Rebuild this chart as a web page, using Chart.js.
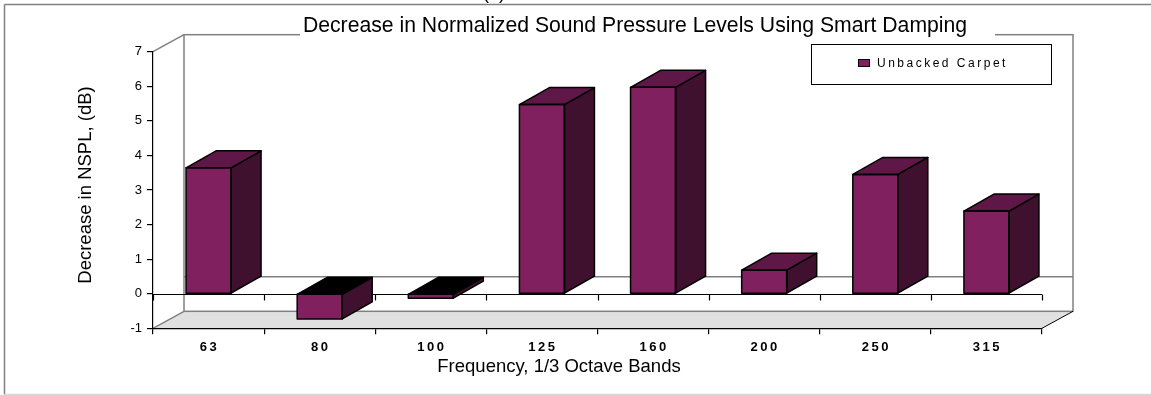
<!DOCTYPE html>
<html>
<head>
<meta charset="utf-8">
<script src="https://cdn.jsdelivr.net/npm/chart.js@4.4.1/dist/chart.umd.min.js"></script>
<style>
html,body{margin:0;padding:0;background:#fff;}
canvas{display:block;}
</style>
</head>
<body>
<canvas id="c" width="1151" height="395"></canvas>
<script>
// ---- data ----
const categories = ['63', '80', '100', '125', '160', '200', '250', '315'];
const decreaseNSPL = [3.64, -0.73, -0.13, 5.47, 5.97, 0.68, 3.45, 2.39];
const yTickValues = [-1, 0, 1, 2, 3, 4, 5, 6, 7];
const seriesName = 'Unbacked Carpet';
const chartTitle = 'Decrease in Normalized Sound Pressure Levels Using Smart Damping';
const xAxisTitle = 'Frequency, 1/3 Octave Bands';
const yAxisTitle = 'Decrease in NSPL, (dB)';
const panelLabel = '(b)';

// ---- styles ----
const FONT = "'Liberation Sans', Arial, Helvetica, sans-serif";
const FRONT = '#80205F', SIDE = '#40102F', TOPC = '#5F1747';
const WALL_DX = 31, WALL_DY = -17, BAR_DX = 30, BAR_DY = -17;
const GRAY = '#808080';

function poly(ctx, pts, fill, stroke, lw) {
  ctx.beginPath();
  ctx.moveTo(pts[0][0], pts[0][1]);
  for (let i = 1; i < pts.length; i++) ctx.lineTo(pts[i][0], pts[i][1]);
  ctx.closePath();
  if (fill) { ctx.fillStyle = fill; ctx.fill(); }
  if (stroke) { ctx.strokeStyle = stroke; ctx.lineWidth = lw || 1; ctx.stroke(); }
}
function line(ctx, x1, y1, x2, y2, color, lw) {
  ctx.beginPath(); ctx.moveTo(x1, y1); ctx.lineTo(x2, y2);
  ctx.strokeStyle = color; ctx.lineWidth = lw || 1; ctx.stroke();
}

const threeD = {
  id: 'threeD',
  beforeDraw(chart) {
    const ctx = chart.ctx, ca = chart.chartArea, ys = chart.scales.y, xs = chart.scales.x;
    // letter-spaced x tick labels
    if (!xs.__ls) {
      const orig = xs.drawLabels;
      xs.drawLabels = function (a) {
        const c = this.ctx; c.save(); c.letterSpacing = '2.5px'; orig.call(this, a); c.restore();
      };
      xs.__ls = true;
    }
    ctx.save();
    ctx.fillStyle = '#fff';
    ctx.fillRect(0, 0, chart.width, chart.height);
    // outer frame
    line(ctx, 4.5, 394.5, 4.5, 4.5, GRAY, 1.5);
    line(ctx, 4.5, 4.5, chart.width, 4.5, GRAY, 1.5);
    line(ctx, 4.5, 394.5, chart.width, 394.5, '#d8d8d8', 1.5);
    // panel label (mostly cut off above)
    ctx.fillStyle = '#000';
    ctx.font = '18px ' + FONT;
    ctx.textAlign = 'center'; ctx.textBaseline = 'alphabetic';
    ctx.fillText(panelLabel, 494, -1.5);
    // floor at y.min
    const yb = ys.getPixelForValue(ys.min);
    poly(ctx, [[ca.left, yb], [ca.right, yb], [ca.right + WALL_DX, yb + WALL_DY], [ca.left + WALL_DX, yb + WALL_DY]], '#e0e0e0', null);
    // back wall
    ctx.lineJoin = 'miter';
    ctx.strokeStyle = GRAY; ctx.lineWidth = 1.5;
    ctx.strokeRect(ca.left + WALL_DX, ca.top + WALL_DY, ca.right - ca.left, yb - ca.top);
    // side wall top edge, floor diagonals
    line(ctx, ca.left, ca.top, ca.left + WALL_DX, ca.top + WALL_DY, GRAY, 1.5);
    line(ctx, ca.left, yb, ca.left + WALL_DX, yb + WALL_DY, GRAY, 1.5);
    line(ctx, ca.right, yb, ca.right + WALL_DX, yb + WALL_DY, '#000', 1);
    // back zero line
    const y0 = ys.getPixelForValue(0);
    line(ctx, ca.left + WALL_DX, y0 + WALL_DY, ca.right + WALL_DX, y0 + WALL_DY, GRAY, 1.5);
    // title with white box covering the wall edge
    ctx.fillStyle = '#fff';
    ctx.fillRect(300, 7, 695, 29);
    ctx.fillStyle = '#000';
    ctx.font = '21.2px ' + FONT;
    ctx.textAlign = 'center'; ctx.textBaseline = 'alphabetic';
    ctx.fillText(chartTitle, 635, 31.7);
    // axis titles
    ctx.font = '18.5px ' + FONT;
    ctx.fillText(xAxisTitle, 559, 371.7);
    ctx.save();
    ctx.translate(86, 185);
    ctx.rotate(-Math.PI / 2);
    ctx.textBaseline = 'middle';
    ctx.fillText(yAxisTitle, 0, 0);
    ctx.restore();
    // legend
    ctx.fillStyle = '#fff';
    ctx.fillRect(811, 44.5, 241, 40);
    ctx.strokeStyle = '#000'; ctx.lineWidth = 1;
    ctx.strokeRect(811.5, 44.5, 240, 40);
    ctx.fillStyle = FRONT;
    ctx.fillRect(858, 59, 12, 8);
    ctx.strokeRect(858.5, 59.5, 11, 7);
    ctx.fillStyle = '#000';
    ctx.font = '12px ' + FONT;
    ctx.letterSpacing = '2.5px';
    ctx.textAlign = 'left'; ctx.textBaseline = 'middle';
    ctx.fillText(seriesName, 877, 63.5);
    ctx.letterSpacing = '0px';
    ctx.restore();
  },
  beforeDatasetsDraw(chart) {
    const ctx = chart.ctx, ca = chart.chartArea, ys = chart.scales.y;
    const y0 = Math.round(ys.getPixelForValue(0)) + 0.5;
    ctx.save();
    line(ctx, ca.left, y0, ca.right, y0, '#000', 1.2);
    const n = categories.length;
    const step = (ca.right - ca.left) / n;
    for (let i = 0; i <= n; i++) {
      const xx = Math.round(ca.left + i * step) + 0.5;
      line(ctx, xx, y0, xx, y0 + 6, '#000', 1.2);
    }
    ctx.restore();
  },
  afterDatasetsDraw(chart) {
    const ctx = chart.ctx;
    const meta = chart.getDatasetMeta(0);
    ctx.save();
    ctx.lineJoin = 'round';
    meta.data.forEach((bar, i) => {
      const p = bar.getProps(['x', 'y', 'base', 'width'], true);
      const l = p.x - p.width / 2, r = p.x + p.width / 2;
      const t = Math.min(p.y, p.base), b = Math.max(p.y, p.base);
      const neg = decreaseNSPL[i] < 0;
      // side face
      poly(ctx, [[r, t], [r + BAR_DX, t + BAR_DY], [r + BAR_DX, b + BAR_DY], [r, b]], SIDE, '#000', 1.5);
      // top face
      poly(ctx, [[l, t], [l + BAR_DX, t + BAR_DY], [r + BAR_DX, t + BAR_DY], [r, t]], neg ? '#000' : TOPC, '#000', 1.5);
      // front outline
      ctx.strokeStyle = '#000'; ctx.lineWidth = 1.5;
      ctx.strokeRect(l, t, r - l, b - t);
    });
    ctx.restore();
  }
};

Chart.defaults.font.family = FONT;

new Chart(document.getElementById('c'), {
  type: 'bar',
  data: {
    labels: categories,
    datasets: [{
      label: seriesName,
      data: decreaseNSPL,
      backgroundColor: FRONT,
      borderColor: '#000',
      borderWidth: 0,
      barPercentage: 0.405,
      categoryPercentage: 1.0
    }]
  },
  options: {
    responsive: false,
    animation: false,
    devicePixelRatio: 1,
    layout: { padding: { left: 0, top: 51.7, right: 109, bottom: 26.7 } },
    plugins: { legend: { display: false }, title: { display: false }, tooltip: { enabled: false } },
    scales: {
      x: {
        type: 'category',
        offset: true,
        grid: { drawOnChartArea: false, offset: true, tickLength: 6, color: '#000', lineWidth: 1.2 },
        border: { display: true, color: '#000', width: 1.2 },
        ticks: { color: '#000', font: { size: 13, weight: 'bold', family: FONT }, padding: 5, maxRotation: 0, autoSkip: false, labelOffset: 1 },
        afterFit(s) { s.height = 40; }
      },
      y: {
        type: 'linear',
        min: yTickValues[0],
        max: yTickValues[yTickValues.length - 1],
        afterBuildTicks(s) { s.ticks = yTickValues.map(v => ({ value: v })); },
        grid: { drawOnChartArea: false, tickLength: 6, color: '#000', lineWidth: 1.2 },
        border: { display: true, color: '#000', width: 1.2 },
        ticks: { color: '#000', font: { size: 13, family: FONT }, padding: 5 },
        afterFit(s) { s.width = 153; }
      }
    }
  },
  plugins: [threeD]
});
</script>
</body>
</html>
